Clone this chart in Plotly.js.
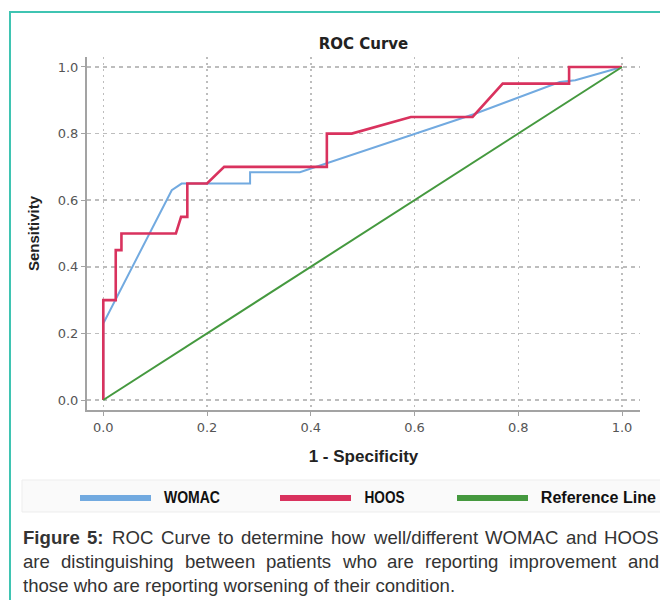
<!DOCTYPE html>
<html>
<head>
<meta charset="utf-8">
<script src="https://cdn.plot.ly/plotly-3.0.1.min.js"></script>
<style>html,body{margin:0;padding:0;background:#fff;}#chart{width:660px;height:600px;}#meas{position:absolute;left:-2000px;top:0;}</style>
</head>
<body>
<div id="chart"></div>
<svg id="meas" width="10" height="10"><text id="measText" x="0" y="10"></text></svg>
<script>
// ---- data ----
const seriesNames = ['WOMAC', 'HOOS', 'Reference Line'];
const womacX = [0, 0, 0.132, 0.151, 0.283, 0.283, 0.379, 0.600, 0.714, 0.880, 0.910, 1.0];
const womacY = [0, 0.23, 0.63, 0.65, 0.65, 0.684, 0.684, 0.800, 0.858, 0.955, 0.960, 1.0];
const hoosX = [0, 0, 0.024, 0.024, 0.035, 0.035, 0.140, 0.150, 0.162, 0.162, 0.200, 0.233, 0.431, 0.431, 0.479, 0.593, 0.712, 0.770, 0.898, 0.898, 1.0];
const hoosY = [0, 0.30, 0.30, 0.45, 0.45, 0.50, 0.50, 0.55, 0.55, 0.65, 0.65, 0.70, 0.70, 0.80, 0.80, 0.85, 0.85, 0.95, 0.95, 1.0, 1.0];
const refX = [0, 1];
const refY = [0, 1];
const tickVals = [0, 0.2, 0.4, 0.6, 0.8, 1.0];
const tickText = ['0.0', '0.2', '0.4', '0.6', '0.8', '1.0'];
const chartTitle = 'ROC Curve';
const xTitle = '1 - Specificity';
const yTitle = 'Sensitivity';
const captionBold = 'Figure 5:';
const captionLines = [
  'ROC Curve to determine how well/different WOMAC and HOOS',
  'are distinguishing between patients who are reporting improvement and',
  'those who are reporting worsening of their condition.'
];
const colors = ['#72aae0', '#d9325e', '#45993f'];

// ---- layout helpers ----
const W = 660, H = 600;
const M = {l: 87, r: 20, t: 57, b: 190};
const PW = W - M.l - M.r, PH = H - M.t - M.b;
const px = x => (x - M.l) / PW;
const py = y => (M.t + PH - y) / PH;

const shapes = [];
const annotations = [];

// teal frame
shapes.push({type: 'line', xref: 'paper', yref: 'paper', x0: px(9), x1: px(662), y0: py(12), y1: py(12), line: {color: '#3fc4b2', width: 2}});
shapes.push({type: 'line', xref: 'paper', yref: 'paper', x0: px(10), x1: px(10), y0: py(12), y1: py(602), line: {color: '#3fc4b2', width: 2}});
// legend band
shapes.push({type: 'rect', xref: 'paper', yref: 'paper', x0: px(22), x1: px(662), y0: py(480), y1: py(512), fillcolor: '#fafafa', line: {color: '#ededed', width: 1}, layer: 'below'});

// legend entries (line sample + narrow bold label)
const legendX = [80, 280, 457];
const legendTextCenter = [192, 384, 598];
const legendTextWidth = [56, 40, 115];
const legendAnnIdx = [];
seriesNames.forEach((name, i) => {
  const x0 = legendX[i];
  shapes.push({type: 'line', xref: 'paper', yref: 'paper', x0: px(x0), x1: px(x0 + 71), y0: py(498), y1: py(498), line: {color: colors[i], width: 6}});
  legendAnnIdx.push(annotations.length);
  annotations.push({xref: 'paper', yref: 'paper', x: px(legendTextCenter[i]), y: py(497), xanchor: 'center', yanchor: 'middle', showarrow: false,
    text: '<b>' + name + '</b>', font: {family: '"Liberation Sans", Arial, sans-serif', size: 16, color: '#111'}});
});

// caption, justified using measured word widths (measured in SVG, like Plotly renders)
const capFam = '"Liberation Sans", Arial, sans-serif';
const measSvg = document.getElementById('meas');
const mt = document.getElementById('measText');
mt.setAttribute('font-family', capFam);
function measure(txt, bold, size) {
  mt.setAttribute('font-size', size);
  mt.setAttribute('font-weight', bold ? 'bold' : 'normal');
  mt.textContent = txt;
  return mt.getComputedTextLength();
}
const lastW = measure(captionLines[2], false, 18);
const capSize = Math.round(18 * 433 / lastW * 10) / 10;
const capLeft = 22, capRight = 658;
const lineY = [537, 561, 585];
captionLines.forEach((line, li) => {
  if (li === 2) {
    annotations.push({xref: 'paper', yref: 'paper', x: px(capLeft - 1), y: py(lineY[li]), xanchor: 'left', yanchor: 'middle', showarrow: false,
      text: line, font: {family: capFam, size: capSize, color: '#333'}});
    return;
  }
  let words = line.split(' ').map(w => ({t: w, b: false}));
  if (li === 0) words = captionBold.split(' ').map(w => ({t: w, b: true})).concat(words);
  const widths = words.map(w => measure(w.t, w.b, capSize));
  const sum = widths.reduce((a, b) => a + b, 0);
  const gap = (capRight - capLeft - sum) / (words.length - 1);
  let pos = capLeft;
  words.forEach((w, i) => {
    annotations.push({xref: 'paper', yref: 'paper', x: px(pos - 1), y: py(lineY[li]), xanchor: 'left', yanchor: 'middle', showarrow: false,
      text: w.b ? '<b>' + w.t + '</b>' : w.t, font: {family: capFam, size: capSize, color: '#333'}});
    pos += widths[i] + gap;
  });
});
// measurement helper is no longer needed
measSvg.parentNode.removeChild(measSvg);

const traces = [
  {x: womacX, y: womacY, name: seriesNames[0], type: 'scatter', mode: 'lines', line: {color: colors[0], width: 2}},
  {x: hoosX, y: hoosY, name: seriesNames[1], type: 'scatter', mode: 'lines', line: {color: colors[1], width: 2.6}},
  {x: refX, y: refY, name: seriesNames[2], type: 'scatter', mode: 'lines', line: {color: colors[2], width: 2}}
];

const axisCommon = {
  tickvals: tickVals, ticktext: tickText,
  showgrid: true, gridcolor: '#bdbdbd', gridwidth: 1.5,
  zeroline: false, showline: true, linecolor: '#a3a3a3', linewidth: 2,
  ticks: 'outside', ticklen: 4, tickcolor: '#a3a3a3', tickwidth: 1,
  tickfont: {family: '"DejaVu Sans", Verdana, sans-serif', size: 13, color: '#555'},
  fixedrange: true
};

const layout = {
  width: W, height: H,
  margin: M,
  paper_bgcolor: '#ffffff', plot_bgcolor: '#ffffff',
  showlegend: false,
  title: {text: '<b>' + chartTitle + '</b>', x: 0.5, xref: 'paper', xanchor: 'center', y: 1 - 44 / H, yref: 'container', yanchor: 'middle',
    font: {family: '"DejaVu Sans", Verdana, sans-serif', size: 15, color: '#222'}},
  xaxis: Object.assign({}, axisCommon, {range: [-0.0314, 1.0347], griddash: '2px,4px',
    title: {text: '<b>' + xTitle + '</b>', standoff: 17, font: {family: '"Liberation Sans", Arial, sans-serif', size: 17, color: '#222'}}}),
  yaxis: Object.assign({}, axisCommon, {range: [-0.030, 1.030], griddash: '4px,4px',
    title: {text: '<b>' + yTitle + '</b>', standoff: 14, font: {family: '"Liberation Sans", Arial, sans-serif', size: 15, color: '#222'}}}),
  shapes: shapes,
  annotations: annotations
};

Plotly.newPlot('chart', traces, layout, {displayModeBar: false, staticPlot: true}).then(gd => {
  // squeeze legend labels into the narrow widths of the reference's condensed face
  legendAnnIdx.forEach((ai, i) => {
    const t = gd.querySelector('.annotation[data-index="' + ai + '"] text.annotation-text');
    if (t) {
      t.setAttribute('textLength', legendTextWidth[i]);
      t.setAttribute('lengthAdjust', 'spacingAndGlyphs');
    }
  });
});
</script>
</body>
</html>
